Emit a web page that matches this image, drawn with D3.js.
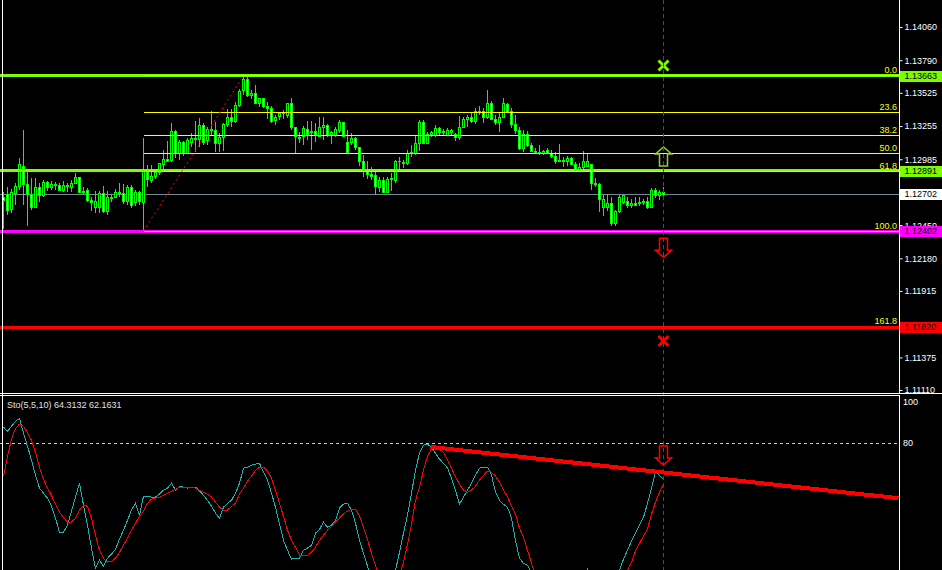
<!DOCTYPE html>
<html>
<head>
<meta charset="utf-8">
<script src="https://cdn.jsdelivr.net/npm/d3@7"></script>
<style>
  html, body { margin: 0; padding: 0; background: #000; }
  svg { display: block; font-family: "Liberation Sans", Arial, sans-serif; }
</style>
</head>
<body>
<svg id="chart" width="942" height="570"></svg>
<script>
// ---- price bars (EURUSD-style quotes), one entry per bar ----
const open = [
1.12678,1.12695,1.12573,1.12703,1.12760,1.12930,1.12784,1.12695,1.12597,1.12752,
1.12687,1.12800,1.12752,1.12776,1.12768,1.12735,1.12768,1.12752,1.12792,1.12833,
1.12727,1.12735,1.12654,1.12597,1.12597,1.12703,1.12557,1.12678,1.12678,1.12711,
1.12703,1.12638,1.12752,1.12630,1.12711,1.12630,1.12874,1.12809,1.12841,1.12874,
1.12939,1.12987,1.12979,1.13207,1.13036,1.13125,1.13036,1.13125,1.13142,1.13142,
1.13256,1.13134,1.13223,1.13215,1.13117,1.13158,1.13264,1.13321,1.13288,1.13426,
1.13540,1.13637,1.13507,1.13516,1.13442,1.13475,1.13410,1.13394,1.13304,1.13329,
1.13353,1.13337,1.13442,1.13247,1.13166,1.13174,1.13231,1.13199,1.13207,1.13174,
1.13247,1.13256,1.13190,1.13182,1.13215,1.13280,1.13125,1.13125,1.13150,1.13077,
1.12963,1.12882,1.12865,1.12857,1.12752,1.12809,1.12719,1.12817,1.12809,1.12971,
1.12955,1.12947,1.13036,1.13036,1.13117,1.13280,1.13117,1.13190,1.13182,1.13239,
1.13199,1.13182,1.13199,1.13190,1.13166,1.13247,1.13312,1.13321,1.13296,1.13377,
1.13377,1.13321,1.13442,1.13312,1.13280,1.13321,1.13434,1.13377,1.13264,1.13215,
1.13069,1.13190,1.13101,1.13052,1.13044,1.13036,1.13060,1.13028,1.13004,1.12971,
1.12979,1.12971,1.12995,1.12939,1.12898,1.12922,1.12930,1.12939,1.12792,1.12784,
1.12597,1.12597,1.12622,1.12467,1.12557,1.12630,1.12638,1.12613,1.12622,1.12622,
1.12630,1.12638,1.12597,1.12735,1.12687,1.12711
];
const high = [
1.12719,1.12760,1.12744,1.12792,1.12995,1.13223,1.12882,1.12833,1.12833,1.12792,
1.12817,1.12809,1.12809,1.12800,1.12792,1.12809,1.12792,1.12817,1.12874,1.12841,
1.12760,1.12752,1.12678,1.12727,1.12727,1.12768,1.12727,1.12703,1.12744,1.12792,
1.12784,1.12776,1.12776,1.12735,1.12727,1.13158,1.12939,1.12939,1.12898,1.12955,
1.13060,1.13134,1.13280,1.13223,1.13142,1.13134,1.13158,1.13199,1.13296,1.13321,
1.13280,1.13247,1.13377,1.13288,1.13199,1.13280,1.13394,1.13394,1.13451,1.13556,
1.13663,1.13654,1.13548,1.13589,1.13483,1.13483,1.13451,1.13418,1.13345,1.13369,
1.13386,1.13442,1.13483,1.13247,1.13207,1.13256,1.13296,1.13296,1.13280,1.13329,
1.13329,1.13272,1.13215,1.13247,1.13304,1.13288,1.13223,1.13199,1.13166,1.13077,
1.13020,1.12971,1.12922,1.12898,1.12841,1.12841,1.12841,1.12874,1.12979,1.13004,
1.12979,1.13060,1.13101,1.13182,1.13304,1.13304,1.13207,1.13215,1.13264,1.13247,
1.13231,1.13239,1.13231,1.13199,1.13337,1.13329,1.13345,1.13369,1.13402,1.13418,
1.13402,1.13548,1.13459,1.13345,1.13361,1.13483,1.13442,1.13402,1.13345,1.13247,
1.13223,1.13215,1.13117,1.13077,1.13101,1.13060,1.13077,1.13060,1.13044,1.13109,
1.13004,1.13012,1.13004,1.12963,1.12955,1.13052,1.13036,1.12947,1.12833,1.12792,
1.12695,1.12703,1.12678,1.12573,1.12695,1.12695,1.12678,1.12662,1.12678,1.12678,
1.12662,1.12678,1.12752,1.12752,1.12735,1.12760
];
const low = [
1.12418,1.12532,1.12548,1.12613,1.12735,1.12613,1.12443,1.12573,1.12589,1.12638,
1.12678,1.12727,1.12735,1.12735,1.12727,1.12719,1.12719,1.12719,1.12784,1.12711,
1.12703,1.12638,1.12565,1.12548,1.12548,1.12548,1.12532,1.12638,1.12670,1.12678,
1.12622,1.12613,1.12589,1.12605,1.12613,1.12402,1.12760,1.12792,1.12825,1.12857,
1.12898,1.12963,1.12963,1.12995,1.12979,1.13012,1.13028,1.13085,1.13044,1.13085,
1.13101,1.13101,1.13182,1.13044,1.13044,1.13052,1.13247,1.13247,1.13280,1.13410,
1.13507,1.13491,1.13475,1.13434,1.13410,1.13402,1.13312,1.13280,1.13264,1.13304,
1.13312,1.13321,1.13223,1.13036,1.13117,1.13101,1.13142,1.13060,1.13125,1.13166,
1.13142,1.13166,1.13109,1.13166,1.13199,1.13174,1.13044,1.13101,1.13060,1.12930,
1.12841,1.12825,1.12817,1.12695,1.12719,1.12711,1.12711,1.12727,1.12792,1.12898,
1.12914,1.12939,1.13004,1.13020,1.13052,1.13117,1.13109,1.13166,1.13166,1.13182,
1.13174,1.13174,1.13182,1.13134,1.13142,1.13239,1.13247,1.13280,1.13272,1.13345,
1.13280,1.13312,1.13304,1.13264,1.13207,1.13321,1.13361,1.13239,1.13190,1.13060,
1.13044,1.13085,1.13044,1.13028,1.13020,1.13020,1.13028,1.12995,1.12947,1.12963,
1.12922,1.12930,1.12939,1.12890,1.12882,1.12890,1.12922,1.12735,1.12760,1.12557,
1.12524,1.12565,1.12443,1.12443,1.12548,1.12622,1.12589,1.12589,1.12605,1.12605,
1.12613,1.12581,1.12589,1.12670,1.12654,1.12687
];
const close = [
1.12654,1.12565,1.12719,1.12760,1.12939,1.12776,1.12695,1.12597,1.12752,1.12687,
1.12800,1.12752,1.12784,1.12768,1.12735,1.12768,1.12760,1.12792,1.12833,1.12719,
1.12719,1.12654,1.12630,1.12638,1.12703,1.12557,1.12678,1.12670,1.12711,1.12703,
1.12638,1.12752,1.12613,1.12711,1.12638,1.12882,1.12817,1.12841,1.12874,1.12947,
1.12987,1.12971,1.13207,1.13036,1.13125,1.13036,1.13134,1.13150,1.13150,1.13256,
1.13125,1.13223,1.13215,1.13117,1.13158,1.13264,1.13321,1.13288,1.13426,1.13532,
1.13637,1.13507,1.13516,1.13442,1.13475,1.13410,1.13394,1.13296,1.13321,1.13361,
1.13361,1.13442,1.13247,1.13174,1.13150,1.13239,1.13190,1.13207,1.13182,1.13247,
1.13256,1.13182,1.13199,1.13223,1.13280,1.13174,1.13044,1.13150,1.13077,1.12963,
1.12882,1.12865,1.12849,1.12760,1.12809,1.12719,1.12817,1.12825,1.12971,1.12963,
1.12947,1.13036,1.13044,1.13117,1.13280,1.13117,1.13190,1.13199,1.13239,1.13199,
1.13207,1.13215,1.13215,1.13166,1.13247,1.13312,1.13321,1.13288,1.13377,1.13369,
1.13321,1.13442,1.13312,1.13280,1.13321,1.13442,1.13369,1.13264,1.13215,1.13069,
1.13190,1.13101,1.13052,1.13044,1.13036,1.13052,1.13028,1.13004,1.12971,1.12979,
1.12971,1.12995,1.12939,1.12898,1.12922,1.12971,1.12963,1.12792,1.12784,1.12662,
1.12662,1.12622,1.12467,1.12557,1.12678,1.12687,1.12613,1.12622,1.12613,1.12630,
1.12638,1.12597,1.12735,1.12687,1.12719,1.12702
];

// ---- Stochastic(5,5,10): main (%K) and signal (%D) ----
const stochK = [
87.1,85.3,87.5,89.7,90.9,84.5,78.8,72.7,66.2,60.6,
58.4,56.2,52.7,47.5,41.4,41.4,44.5,50.6,56.7,62.7,
53.2,44.5,34.5,25.8,29.3,26.7,30.1,31.9,34.0,38.4,
42.3,46.6,51.0,54.0,48.8,57.1,57.1,56.7,56.7,58.0,
59.7,60.6,62.7,59.7,61.4,61.0,60.6,61.0,61.0,59.3,
57.5,55.3,52.7,49.7,47.5,52.3,54.0,55.3,58.4,62.7,
69.3,69.7,70.6,71.0,71.4,67.5,64.1,58.4,52.3,44.9,
37.9,33.6,29.7,30.1,30.1,33.6,34.5,35.8,41.0,42.7,
45.8,43.6,44.5,46.6,51.9,53.6,54.0,51.0,45.3,37.9,
32.3,26.7,21.4,18.4,16.2,15.3,16.2,19.7,24.9,32.7,
41.0,48.8,58.4,68.4,75.8,79.3,79.7,78.4,75.8,73.2,
71.4,69.3,64.9,59.7,53.6,56.7,59.7,62.7,66.2,69.3,
69.7,69.7,66.2,58.8,55.3,53.6,52.3,47.5,37.9,30.1,
27.9,27.1,24.0,20.6,16.2,14.0,12.7,11.9,11.9,12.7,
14.0,15.3,16.2,17.1,18.4,21.4,25.4,21.4,18.4,16.2,
15.3,16.2,20.6,22.7,24.9,29.7,33.6,37.5,41.0,44.5,
47.9,54.0,60.6,67.5,66.2,64.3132
];
const stochD = [
65.8,74.5,81.9,86.6,88.4,87.5,84.5,81.4,76.2,69.7,
64.5,60.6,57.5,53.6,50.1,47.9,45.8,45.8,47.5,51.0,
53.2,52.7,47.5,40.1,33.6,30.1,28.4,28.8,30.1,32.7,
35.8,38.8,42.3,45.3,48.4,50.6,54.0,55.8,56.2,56.7,
57.5,58.4,59.3,60.1,61.0,61.0,61.0,61.0,60.6,59.7,
58.8,58.0,56.7,54.5,52.3,51.0,51.0,52.7,54.0,58.0,
60.6,63.6,65.8,68.4,69.7,69.7,68.0,64.9,59.7,54.0,
48.4,42.3,37.9,34.9,31.4,31.4,31.4,32.7,34.9,37.9,
40.1,42.3,44.0,45.8,47.5,49.3,50.6,51.4,51.4,48.4,
43.6,38.4,32.3,27.1,21.4,17.1,15.3,16.2,18.4,22.7,
28.4,36.2,44.9,55.3,61.0,68.4,74.5,77.5,78.4,77.5,
76.2,72.7,69.3,65.4,62.3,59.7,58.8,59.7,61.4,64.1,
66.2,68.0,67.5,65.8,63.2,59.7,56.7,52.7,49.3,43.2,
39.3,33.6,27.9,22.7,19.3,16.2,14.0,12.7,11.9,11.9,
12.7,13.6,14.4,15.3,16.2,17.1,18.4,18.8,18.4,17.1,
16.2,16.2,17.1,18.4,20.6,22.7,24.9,28.4,33.2,36.6,
39.7,42.7,49.3,54.5,58.8,62.1631
];

// ---- axis ticks ----
const priceTicks = [1.14060, 1.13790, 1.13525, 1.13255, 1.12985, 1.12450, 1.12180, 1.11915, 1.11375, 1.11110];
const stochTicks = [100, 80];
const stochLevel = 80;

// ---- chart objects ----
const levelPrices = [1.13663, 1.12891, 1.12402];   // horizontal lines under the fibo
const stopPrice = 1.11620;                          // horizontal line above the fibo
const fibLevels = [0, 23.6, 38.2, 50, 61.8, 100, 161.8];
const fibLowBar = 35, fibHighBar = 60;
const fibLowPrice = 1.12402, fibHighPrice = 1.13663;
const signalBar = 165;
const crossUpPrice = 1.13747, arrowUpPrice = 1.13085, arrowDownPrice = 1.12188, crossDownPrice = 1.11508;
const stochArrowValue = 70.65;
const stochTrendBars = [106.75, 223.75];
const stochTrendValues = [78.5, 56.2];

// ---- styling ----
const levelColors = ['#7cfc00', '#7cfc00', '#ff00ff'];
const stopColor = '#ff0000';
const bullColor = '#00ff00';
const W = 942, H = 570;
const axisX = 899.5, mainBottom = 393.5, subTop = 395.5;

const svg = d3.select('#chart');
const fmt = d3.format('.5f');

const x = d3.scaleLinear().domain([0, 223.75]).range([3.5, 898.5]);
const y = d3.scaleLinear().domain([1.11110, 1.14060]).range([390, 27]);
const ys = d3.scaleLinear().domain([0, 100]).range([627.5, 397.5]);

svg.append('rect').attr('width', W).attr('height', H).attr('fill', '#000');

const defs = svg.append('defs');
defs.append('clipPath').attr('id', 'clip-main')
  .append('rect').attr('x', 0).attr('y', 0).attr('width', axisX).attr('height', mainBottom);
defs.append('clipPath').attr('id', 'clip-sub')
  .append('rect').attr('x', 0).attr('y', subTop).attr('width', axisX).attr('height', H - subTop);

// ================= main window =================
const main = svg.append('g').attr('clip-path', 'url(#clip-main)');
const bid = close[close.length - 1];

main.append('line')
  .attr('x1', 0).attr('x2', axisX).attr('y1', y(bid)).attr('y2', y(bid))
  .attr('stroke', '#778899').attr('shape-rendering', 'crispEdges');

// candles
const bars = open.map((o, i) => ({ i, o, h: high[i], l: low[i], c: close[i] }));
const cg = main.append('g').attr('shape-rendering', 'crispEdges');
cg.selectAll('line').data(bars).join('line')
  .attr('x1', d => x(d.i)).attr('x2', d => x(d.i))
  .attr('y1', d => y(d.h)).attr('y2', d => y(d.l))
  .attr('stroke', bullColor);
cg.selectAll('rect').data(bars).join('rect')
  .attr('x', d => x(d.i) - 1).attr('width', 2)
  .attr('y', d => Math.min(y(d.o), y(d.c)))
  .attr('height', d => Math.abs(y(d.o) - y(d.c)))
  .attr('fill', d => d.c >= d.o ? '#000' : '#fff')
  .attr('stroke', bullColor);

// horizontal levels
main.append('g').attr('shape-rendering', 'crispEdges')
  .selectAll('line').data(levelPrices).join('line')
  .attr('x1', 0).attr('x2', axisX)
  .attr('y1', d => y(d)).attr('y2', d => y(d))
  .attr('stroke', (d, i) => levelColors[i]).attr('stroke-width', 3);

// fibonacci retracement
const fibPrice = lv => fibHighPrice - (fibHighPrice - fibLowPrice) * lv / 100;
const fg = main.append('g');
fg.selectAll('line').data(fibLevels).join('line')
  .attr('x1', x(fibLowBar)).attr('x2', axisX)
  .attr('y1', d => y(fibPrice(d))).attr('y2', d => y(fibPrice(d)))
  .attr('stroke', '#ffff00').attr('shape-rendering', 'crispEdges');
fg.selectAll('text').data(fibLevels).join('text')
  .attr('x', 897).attr('y', d => y(fibPrice(d)) - 2.5)
  .attr('text-anchor', 'end').attr('fill', '#ffff00').attr('font-size', 9)
  .text(d => d.toFixed(1));
main.append('line')
  .attr('x1', x(fibLowBar)).attr('y1', y(fibLowPrice))
  .attr('x2', x(fibHighBar)).attr('y2', y(fibHighPrice))
  .attr('stroke', '#ff0000').attr('stroke-dasharray', '2,3');

main.append('line')
  .attr('x1', 0).attr('x2', axisX).attr('y1', y(stopPrice)).attr('y2', y(stopPrice))
  .attr('stroke', stopColor).attr('stroke-width', 3).attr('shape-rendering', 'crispEdges');

// signal markers
const sx = x(signalBar);
function cross(g, cy, color) {
  g.append('path')
    .attr('d', `M${sx - 5},${cy - 5}L${sx + 5},${cy + 5}M${sx + 5},${cy - 5}L${sx - 5},${cy + 5}`)
    .attr('stroke', color).attr('stroke-width', 3).attr('fill', 'none');
}
function arrow(g, tipY, dir, color) {
  const s = dir;  // -1 points up, +1 points down
  const p = [[0, 0], [8, -7 * s], [4, -7 * s], [4, -19 * s], [-4, -19 * s], [-4, -7 * s], [-8, -7 * s]];
  g.append('path')
    .attr('d', 'M' + p.map(q => `${sx + q[0]},${tipY + q[1]}`).join('L') + 'Z')
    .attr('fill', 'none').attr('stroke', color).attr('stroke-width', 1.5);
}
cross(main, y(crossUpPrice), '#7cfc00');
arrow(main, y(arrowUpPrice), -1, '#9acd32');
arrow(main, y(arrowDownPrice), 1, '#ff0000');
cross(main, y(crossDownPrice), '#ff0000');

// ================= stochastic window =================
const sub = svg.append('g').attr('clip-path', 'url(#clip-sub)');
sub.append('line')
  .attr('x1', 0).attr('x2', axisX).attr('y1', ys(stochLevel)).attr('y2', ys(stochLevel))
  .attr('stroke', '#c8c8c8').attr('stroke-dasharray', '3,3').attr('shape-rendering', 'crispEdges');

const stochLine = d3.line().x((d, i) => x(i)).y(d => ys(d));
sub.append('path').datum(stochK).attr('d', stochLine)
  .attr('fill', 'none').attr('stroke', '#20b2aa').attr('shape-rendering', 'crispEdges');
sub.append('path').datum(stochD).attr('d', stochLine)
  .attr('fill', 'none').attr('stroke', '#ff0000').attr('shape-rendering', 'crispEdges');

sub.append('line')
  .attr('x1', x(stochTrendBars[0])).attr('y1', ys(stochTrendValues[0]))
  .attr('x2', x(stochTrendBars[1])).attr('y2', ys(stochTrendValues[1]))
  .attr('stroke', '#ff0000').attr('stroke-width', 4).attr('shape-rendering', 'crispEdges');

arrow(sub, ys(stochArrowValue), 1, '#ff0000');

sub.append('text')
  .attr('x', 7).attr('y', 408)
  .attr('fill', '#e0e0e0').attr('font-size', 9)
  .text(`Sto(5,5,10) ${stochK[stochK.length - 1].toFixed(4)} ${stochD[stochD.length - 1].toFixed(4)}`);

// vertical marker line through both windows
svg.append('line')
  .attr('x1', sx).attr('x2', sx).attr('y1', 0).attr('y2', H)
  .attr('stroke', '#ff0000').attr('stroke-dasharray', '4,3').attr('shape-rendering', 'crispEdges');

// ================= price scale =================
const pAxis = svg.append('g').attr('transform', `translate(${axisX},0)`)
  .call(d3.axisRight(y).tickValues(priceTicks).tickSize(3).tickPadding(2).tickFormat(fmt));
pAxis.select('.domain').remove();
pAxis.selectAll('line').attr('stroke', '#fff');
pAxis.selectAll('text').attr('fill', '#fff').attr('font-size', 9)
  .attr('font-family', '"Liberation Sans", Arial, sans-serif');

// price tags
const tags = [
  { p: levelPrices[0], bg: levelColors[0] },
  { p: levelPrices[1], bg: levelColors[1] },
  { p: bid, bg: '#ffffff' },
  { p: levelPrices[2], bg: levelColors[2] },
  { p: stopPrice, bg: stopColor }
];
const tg = svg.append('g');
tg.selectAll('rect').data(tags).join('rect')
  .attr('x', 900).attr('width', 42)
  .attr('y', d => Math.round(y(d.p)) - 5).attr('height', 11)
  .attr('fill', d => d.bg).attr('shape-rendering', 'crispEdges');
tg.selectAll('text').data(tags).join('text')
  .attr('x', 904.5).attr('y', d => Math.round(y(d.p)) + 0.5).attr('dy', '0.32em')
  .attr('fill', '#000').attr('font-size', 9)
  .text(d => fmt(d.p));

// stochastic scale
svg.append('g').selectAll('text').data(stochTicks).join('text')
  .attr('x', 903).attr('y', d => d === 100 ? ys(d) + 5 : ys(d)).attr('dy', '0.32em')
  .attr('fill', '#fff').attr('font-size', 9)
  .text(d => d);

// ================= frames =================
const frame = svg.append('g').attr('stroke', '#fff').attr('shape-rendering', 'crispEdges');
frame.append('line').attr('x1', axisX).attr('x2', axisX).attr('y1', 0).attr('y2', mainBottom);
frame.append('line').attr('x1', axisX).attr('x2', axisX).attr('y1', subTop).attr('y2', H);
frame.append('line').attr('x1', 0).attr('x2', W).attr('y1', mainBottom).attr('y2', mainBottom);
frame.append('line').attr('x1', 0).attr('x2', axisX).attr('y1', subTop).attr('y2', subTop);
frame.append('line').attr('x1', 2.5).attr('x2', 2.5).attr('y1', 0).attr('y2', H);
</script>
</body>
</html>
